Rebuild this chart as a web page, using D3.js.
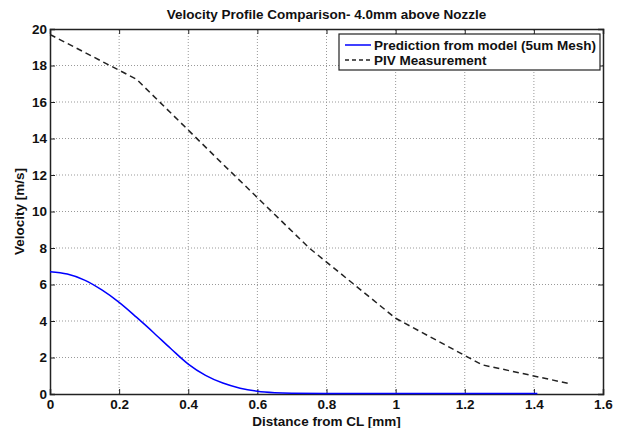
<!DOCTYPE html>
<html>
<head>
<meta charset="utf-8">
<script src="https://cdn.jsdelivr.net/npm/d3@7"></script>
<style>
  body { margin: 0; background: #fff; }
  svg text { font-family: "Liberation Sans", Arial, sans-serif; font-weight: bold; fill: #111; }
</style>
</head>
<body>
<div id="container"></div>
<script>
// model prediction (5um mesh)
const modelX = [0, 0.05, 0.1, 0.15, 0.2, 0.25, 0.3, 0.35, 0.4, 0.45, 0.5, 0.55, 0.6, 0.65, 0.7, 0.8, 0.9, 1.0, 1.1, 1.2, 1.3, 1.41];
const modelY = [6.70, 6.57, 6.24, 5.70, 5.02, 4.21, 3.36, 2.48, 1.64, 1.02, 0.60, 0.32, 0.15, 0.07, 0.04, 0.03, 0.03, 0.03, 0.03, 0.03, 0.03, 0.03];
// PIV measurement
const pivX = [0, 0.25, 0.5, 0.75, 1.0, 1.25, 1.5];
const pivY = [19.7, 17.25, 12.6, 8.0, 4.15, 1.6, 0.58];

const xTicks = [0, 0.2, 0.4, 0.6, 0.8, 1, 1.2, 1.4, 1.6];
const yTicks = [0, 2, 4, 6, 8, 10, 12, 14, 16, 18, 20];
const legendLabels = ["Prediction from model (5um Mesh)", "PIV Measurement"];

const W = 621, H = 428;
const margin = { left: 50, right: 18, top: 29, bottom: 34 };

const svg = d3.select("#container").append("svg")
  .attr("width", W)
  .attr("height", H);

const x = d3.scaleLinear().domain([0, 1.6]).range([margin.left, W - margin.right]);
const y = d3.scaleLinear().domain([0, 20]).range([H - margin.bottom, margin.top]);

// grid
svg.append("g").selectAll("line")
  .data(xTicks.slice(1, -1))
  .join("line")
  .attr("x1", d => x(d)).attr("x2", d => x(d))
  .attr("y1", y(0)).attr("y2", y(20))
  .attr("stroke", "#999").attr("stroke-dasharray", "1,2");
svg.append("g").selectAll("line")
  .data(yTicks.slice(1, -1))
  .join("line")
  .attr("x1", x(0)).attr("x2", x(1.6))
  .attr("y1", d => y(d)).attr("y2", d => y(d))
  .attr("stroke", "#999").attr("stroke-dasharray", "1,2");

// axes (ticks inside, on all four sides)
const fmt = d => d3.format("~g")(d);
const xAxis = svg.append("g").attr("transform", `translate(0,${y(0)})`)
  .call(d3.axisBottom(x).tickValues(xTicks).tickFormat(fmt).tickSize(-5).tickPadding(5));
const yAxis = svg.append("g").attr("transform", `translate(${x(0)},0)`)
  .call(d3.axisLeft(y).tickValues(yTicks).tickFormat(fmt).tickSize(-5).tickPadding(3));
const xTop = svg.append("g").attr("transform", `translate(0,${y(20)})`)
  .call(d3.axisTop(x).tickValues(xTicks).tickFormat("").tickSize(-5));
const yRight = svg.append("g").attr("transform", `translate(${x(1.6)},0)`)
  .call(d3.axisRight(y).tickValues(yTicks).tickFormat("").tickSize(-5));

[xAxis, yAxis, xTop, yRight].forEach(g => {
  g.selectAll(".domain").attr("stroke", "#222").attr("stroke-width", 1.5);
  g.selectAll(".tick line").attr("stroke", "#222");
  g.selectAll("text").attr("font-size", 13.5).attr("font-family", null).attr("fill", "#111");
});

// lines
const line = d3.line().x(d => x(d[0])).y(d => y(d[1]));
svg.append("path")
  .datum(modelX.map((v, i) => [v, modelY[i]]))
  .attr("d", line.curve(d3.curveMonotoneX))
  .attr("fill", "none")
  .attr("stroke", "#0000ff")
  .attr("stroke-width", 1.5);
svg.append("path")
  .datum(pivX.map((v, i) => [v, pivY[i]]))
  .attr("d", d3.line().x(d => x(d[0])).y(d => y(d[1])))
  .attr("fill", "none")
  .attr("stroke", "#222")
  .attr("stroke-width", 1.5)
  .attr("stroke-dasharray", "6,4");

// titles
svg.append("text")
  .attr("x", (x(0) + x(1.6)) / 2).attr("y", 19)
  .attr("text-anchor", "middle").attr("font-size", 13.5)
  .text("Velocity Profile Comparison- 4.0mm above Nozzle");
svg.append("text")
  .attr("x", (x(0) + x(1.6)) / 2).attr("y", 426)
  .attr("text-anchor", "middle").attr("font-size", 13.5)
  .text("Distance from CL [mm]");
svg.append("text")
  .attr("transform", `translate(24,${(y(0) + y(20)) / 2}) rotate(-90)`)
  .attr("text-anchor", "middle").attr("font-size", 13.5)
  .text("Velocity [m/s]");

// legend
const lg = svg.append("g").attr("transform", "translate(339,34)");
lg.append("rect")
  .attr("width", 261).attr("height", 36)
  .attr("fill", "#fff").attr("stroke", "#222").attr("stroke-width", 1.2);
const styles = [{ stroke: "#0000ff", dash: null }, { stroke: "#222", dash: "4,3" }];
legendLabels.forEach((lab, i) => {
  lg.append("line")
    .attr("x1", 6).attr("x2", 32)
    .attr("y1", 11 + i * 15).attr("y2", 11 + i * 15)
    .attr("stroke", styles[i].stroke).attr("stroke-width", 1.5)
    .attr("stroke-dasharray", styles[i].dash);
  lg.append("text")
    .attr("x", 35).attr("y", 11 + i * 15).attr("dy", "0.35em")
    .attr("font-size", 13.5)
    .text(lab);
});
</script>
</body>
</html>
